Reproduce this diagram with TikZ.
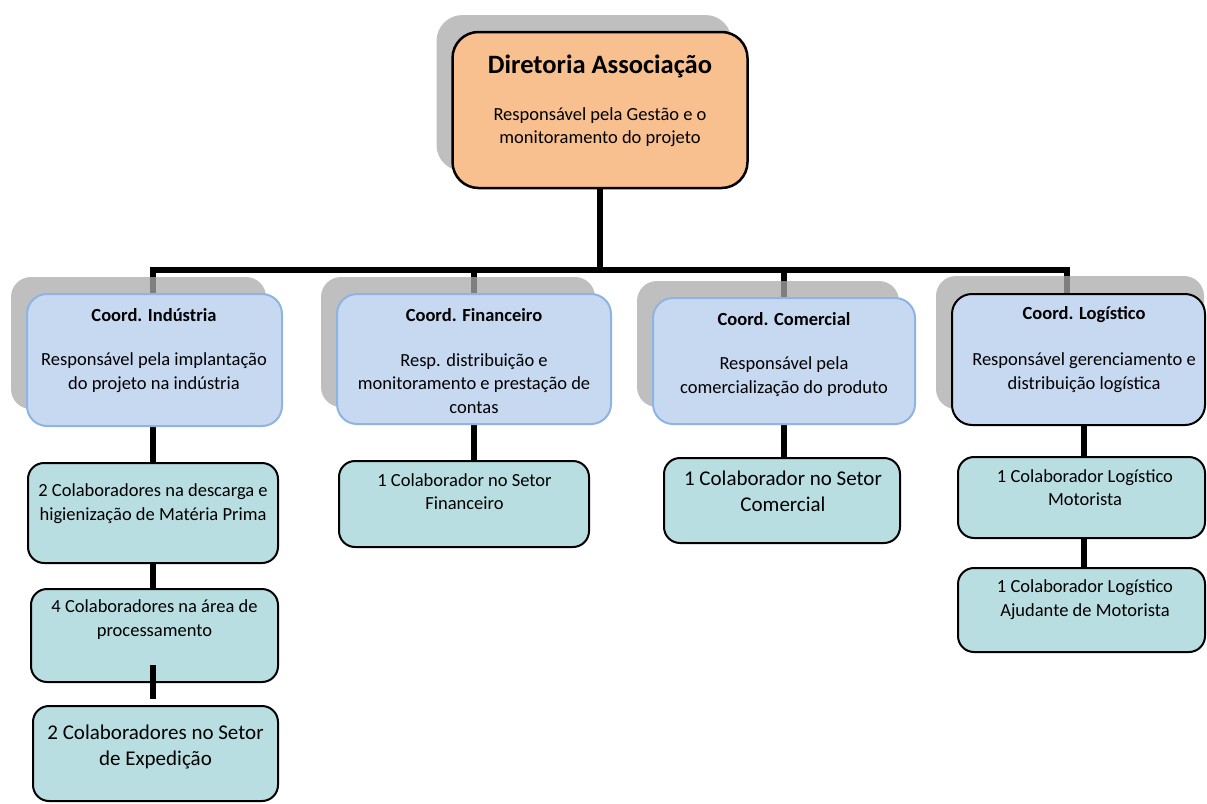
\documentclass[tikz,border=0pt]{standalone}
\usepackage{fontspec}
\setmainfont{Carlito}
\usetikzlibrary{calc,shadows}
\definecolor{dirfill}{RGB}{248,191,143}
\definecolor{coordfill}{RGB}{198,217,241}
\definecolor{coordline}{RGB}{141,180,226}
\definecolor{teamfill}{RGB}{184,222,226}
\definecolor{shadecol}{RGB}{170,170,170}
\pgfdeclarelayer{background}
\pgfdeclarelayer{shade}
\pgfsetlayers{background,shade,main}
\tikzset{
  shadefill/.style={fill=shadecol, opacity=0.75},
  boxshadow/.style={drop shadow={shadow xshift=-16pt, shadow yshift=17pt, shadefill}},
  dirbox/.style={draw=black, line width=2.5pt, fill=dirfill, rounded corners=26pt, boxshadow},
  coordbox/.style={draw=coordline, line width=2pt, fill=coordfill, rounded corners=20pt, boxshadow},
  coordboxdark/.style={draw=black, line width=2pt, fill=coordfill, rounded corners=20pt},
  teambox/.style={draw=black, line width=2pt, fill=teamfill, rounded corners=16pt},
  conn/.style={line width=6pt, draw=black},
  body/.style={align=center, inner sep=0pt, font=\fontsize{18.5}{23.5}\selectfont},
  bigbody/.style={align=center, inner sep=0pt, font=\fontsize{21}{26.5}\selectfont},
  head/.style={inner sep=0pt, font=\bfseries\fontsize{18.5}{22}\selectfont},
  title/.style={inner sep=0pt, font=\bfseries\fontsize{26.5}{30}\selectfont},
}
\begin{document}
\begin{tikzpicture}[x=1pt,y=-1pt]
\useasboundingbox (0,0) rectangle (1207,803);

% Board of directors
\node[dirbox, minimum width=295, minimum height=156] (dir) at (600,110) {};
\node[title] (dirT) at (600,66) {Diretoria Associação};
\node[body] (dirD) at (600,127) {Responsável pela Gestão e o\\monitoramento do projeto};

% Coordinations
\node[coordbox, minimum width=255, minimum height=132] (cI) at (154.5,360) {};
\node[head] (cIT) at (154,315) {Coord. Indústria};
\node[body] (cID) at (154,372.5) {Responsável pela implantação\\do projeto na indústria};

\node[coordbox, minimum width=274, minimum height=130] (cF) at (474,359) {};
\node[head] (cFT) at (474,315) {Coord. Financeiro};
\node[body] (cFD) at (474,383.5) {Resp. distribuição e\\monitoramento e prestação de\\contas};

\node[coordbox, minimum width=262, minimum height=126] (cC) at (784,361) {};
\node[head] (cCT) at (784,319) {Coord. Comercial};
\node[body] (cCD) at (784,376.5) {Responsável pela\\comercialização do produto};

\node[coordboxdark, minimum width=253, minimum height=131] (cL) at (1078.5,359.5) {};
\node[head] (cLT) at (1084,315) {Coord. Logístico};
\node[body] (cLD) at (1084,372.5) {Responsável gerenciamento e\\distribuição logística};

% Wider shadow of the logistics box
\begin{pgfonlayer}{shade}
  \fill[shadefill, rounded corners=20pt] ($(cL.south west)+(-15,-17)$) rectangle ($(cL.north east)+(-2,-17)$);
\end{pgfonlayer}

% Teams
\node[teambox, minimum width=250, minimum height=100] (lA) at (153,513) {};
\node[body] (lAT) at (153,503.5) {2 Colaboradores na descarga e\\higienização de Matéria Prima};

\node[teambox, minimum width=247, minimum height=93] (lB) at (154.5,635.5) {};
\node[body] (lBT) at (154.5,619.5) {4 Colaboradores na área de\\processamento};

\node[teambox, minimum width=245, minimum height=95] (lC) at (155.5,753.5) {};
\node[bigbody] (lCT) at (155.5,747) {2 Colaboradores no Setor\\de Expedição};

\node[teambox, minimum width=250, minimum height=86] (fA) at (464,504) {};
\node[body] (fAT) at (464.5,491.5) {1 Colaborador no Setor\\Financeiro};

\node[teambox, minimum width=236, minimum height=85] (mA) at (782,500.5) {};
\node[bigbody] (mAT) at (783,491.5) {1 Colaborador no Setor\\Comercial};

\node[teambox, minimum width=247, minimum height=81] (gA) at (1081.5,497.5) {};
\node[body] (gAT) at (1085,487.5) {1 Colaborador Logístico\\Motorista};

\node[teambox, minimum width=247, minimum height=84] (gB) at (1081.5,610) {};
\node[body] (gBT) at (1085,599.5) {1 Colaborador Logístico\\Ajudante de Motorista};

% Connectors behind the boxes
\begin{pgfonlayer}{background}
  \coordinate (hub) at (600,270);
  \draw[conn] (dir.south) -- (dir.south |- hub);
  \draw[conn] ($(cI.north)+(-1.5,0)$) |- (hub) -| ($(cL.north)+(-11.5,0)$);
  \draw[conn] (cF.north) -- (cF.north |- hub);
  \draw[conn] (cC.north) -- (cC.north |- hub);
  \draw[conn] (lA.north |- cI.south) -- (lA.north);
  \draw[conn] (lA.south) -- (lA.south |- lB.north);
  \draw[conn] (cF.south) -- (cF.south |- fA.north);
  \draw[conn] (cC.south) -- (cC.south |- mA.north);
  \draw[conn] ($(gA.north |- cL.south)+(2.5,0)$) -- ($(gA.north)+(2.5,0)$);
  \draw[conn] ($(gA.south)+(2.5,0)$) -- ($(gB.north)+(2.5,0)$);
\end{pgfonlayer}
% Connector drawn over the processing box
\draw[conn] ($(lB.south)+(-1.5,-18)$) -- ($(lC.north)+(-2.5,-6)$);
\end{tikzpicture}
\end{document}
